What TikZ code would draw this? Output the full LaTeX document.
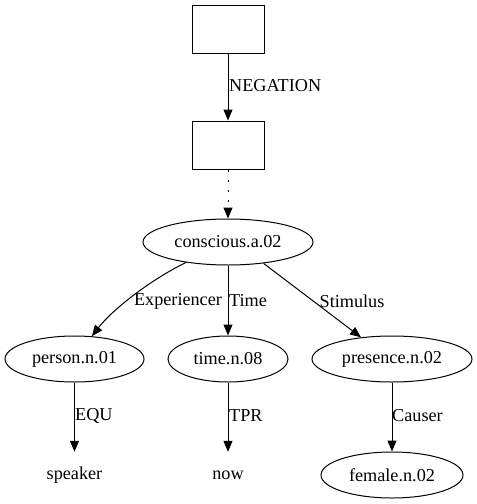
\documentclass[tikz,border=0pt]{standalone}
\usepackage{fontspec}
\setmainfont{Liberation Serif}
\usetikzlibrary{arrows.meta,shapes.geometric}
\begin{document}
\begin{tikzpicture}[x=1pt,y=-1pt,
  every node/.style={font=\fontsize{18.2}{20}\selectfont},
  box/.style={draw,line width=1pt,minimum width=72pt,minimum height=48pt,inner sep=0pt},
  ell/.style={draw,ellipse,line width=1pt,minimum height=46pt,inner sep=0pt},
  plain/.style={minimum height=46pt,inner sep=0pt},
  lbl/.style={inner sep=0pt},
  edge/.style={line width=1pt,-{Triangle[length=11pt,width=9pt]}},
  dotedge/.style={edge,dash pattern=on 2pt off 8pt}]
\useasboundingbox (0,0) rectangle (477,504);
\node[box] (b1) at (228,29) {};
\node[box] (b2) at (228,145) {};
\node[ell,minimum width=170pt] (c) at (228,242) {conscious.a.02};
\node[ell,minimum width=139pt] (p) at (74.5,359) {person.n.01};
\node[ell,minimum width=120pt] (t) at (228,359) {time.n.08};
\node[ell,minimum width=160pt] (pr) at (392,359) {presence.n.02};
\node[plain] (s) at (74.5,475) {speaker};
\node[plain] (n) at (228,475) {now};
\node[ell,minimum width=142pt] (f) at (392,475) {female.n.02};
\draw[edge] (b1) -- (b2);
\draw[dotedge] (b2) -- (c);
\draw[edge] (c) .. controls (150,280) and (112,310) .. (p);
\draw[edge] (c) -- (t);
\draw[edge] (c.-31.7) -- (pr.145.6);
\draw[edge] (p) -- (s);
\draw[edge] (t) -- (n);
\draw[edge] (pr) -- (f);
\node[lbl,anchor=west] (lneg) at (229,86) {NEGATION};
\node[lbl] (lexp) at (178,301) {Experiencer};
\node[lbl,anchor=west] (ltime) at (229,301) {Time};
\node[lbl] (lstim) at (352,301) {Stimulus};
\node[lbl,anchor=west] (lequ) at (75,416) {EQU};
\node[lbl,anchor=west] (ltpr) at (229,416) {TPR};
\node[lbl,anchor=west] (lcau) at (392,416) {Causer};
\end{tikzpicture}
\end{document}
